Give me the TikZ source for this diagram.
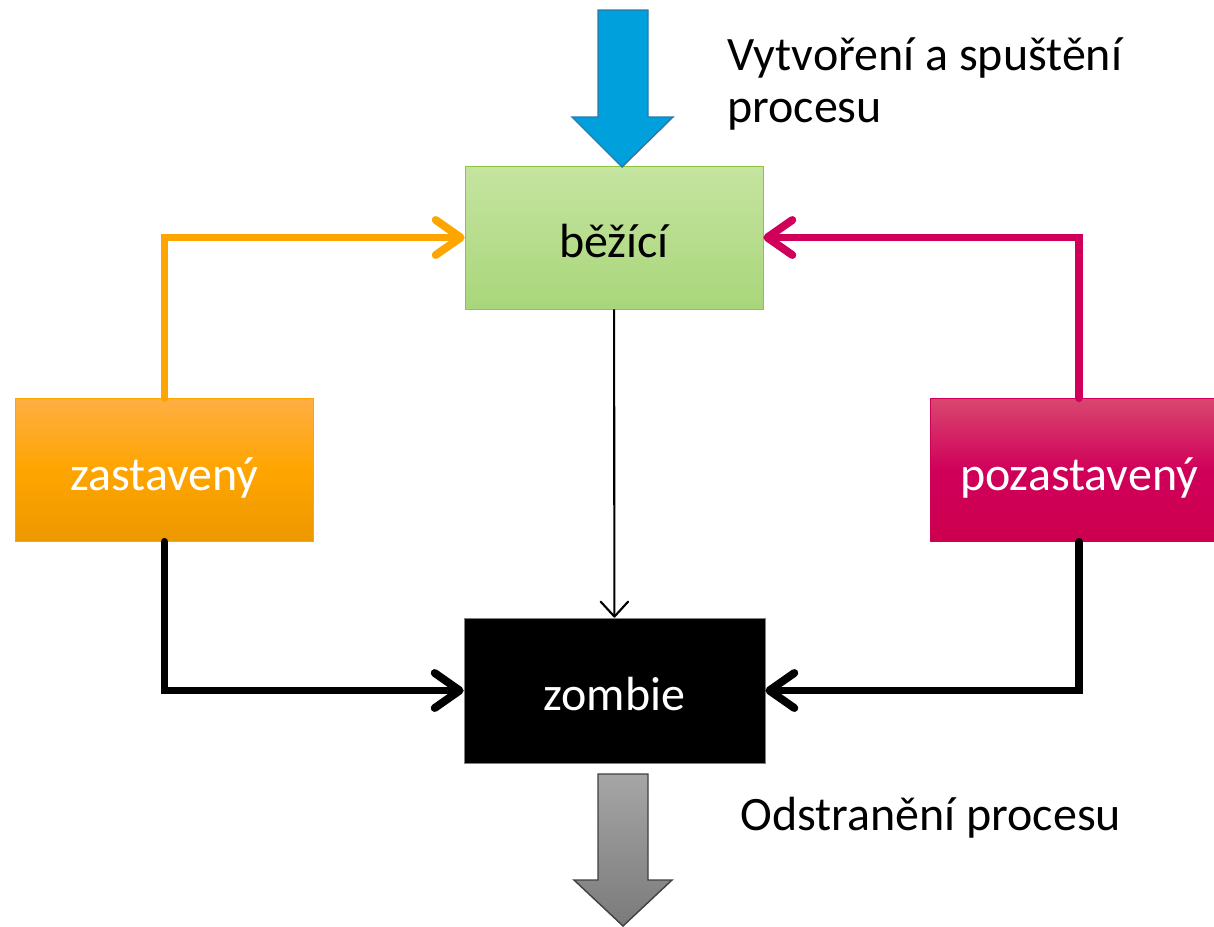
\documentclass[tikz,border=0pt]{standalone}
\usepackage{fontspec}
\setmainfont{Carlito}
\usepackage{tikz}
\usetikzlibrary{positioning,arrows.meta}
\definecolor{zelena}{RGB}{169,214,122}
\definecolor{zelenasvetla}{RGB}{197,228,160}
\definecolor{zelenaokraj}{RGB}{140,198,63}
\definecolor{oranzova}{RGB}{255,165,0}
\definecolor{oranzovasvetla}{RGB}{255,174,68}
\definecolor{oranzovatmava}{RGB}{236,152,0}
\definecolor{purpur}{RGB}{208,0,90}
\definecolor{purpursvetly}{RGB}{216,72,111}
\definecolor{purpurtmavy}{RGB}{204,0,78}
\definecolor{modra}{RGB}{0,160,220}
\definecolor{modraokraj}{RGB}{42,121,168}
\tikzset{stav/.style={rectangle, minimum width=5.96cm, minimum height=2.86cm,
                      text height=29pt, text depth=6pt,
                      font=\fontsize{27.3}{30}\selectfont},
         popis/.style={inner sep=0pt, font=\fontsize{27.3}{30}\selectfont},
         hrana/.style={line width=4.5pt, line cap=round,
                       -{Straight Barb[length=5mm, width=7mm, round]}}}

\begin{document}
\begin{tikzpicture}
    \useasboundingbox (0,0) rectangle (24.28,-18.52);
    % stavy procesu
    \node[stav, draw=zelenaokraj, top color=zelenasvetla, bottom color=zelena] (bezici) at (12.28,-4.75) {běžící};
    \node[stav, draw=oranzova, top color=oranzovasvetla, bottom color=oranzovatmava,
          middle color=oranzova, text=white] (zast) at (3.29,-9.4) {zastavený};
    \node[stav, draw=purpur, top color=purpursvetly, bottom color=purpurtmavy,
          middle color=purpur, text=white] (pozast) at (21.58,-9.4) {pozastavený};
    \node[stav, draw=gray, fill=black, text=white, minimum width=6.02cm, minimum height=2.9cm] (zombie) at (12.29,-13.81) {zombie};

    % prechody
    \draw[hrana, oranzova] (zast.north) |- (bezici.west);
    \draw[hrana, purpur] (pozast.north) |- (bezici.east);
    \draw[hrana, black] (zast.south) |- (zombie.west);
    \draw[hrana, black] (pozast.south) |- (zombie.east);
    \draw[line width=1.2pt, -{Straight Barb[length=3mm, width=5.5mm, round]}] (bezici) -- (zombie);

    % vstup a vystup
    \draw[draw=modraokraj, fill=modra, line width=0.8pt]
        (11.96,-0.2) -- (12.96,-0.2) -- (12.96,-2.34) -- (13.46,-2.34) -- (12.44,-3.34)
        -- (11.44,-2.34) -- (11.96,-2.34) -- cycle;
    \draw[draw=black!75, top color=black!35, bottom color=black!52, line width=0.8pt]
        (11.96,-15.48) -- (12.96,-15.48) -- (12.96,-17.6) -- (13.44,-17.6) -- (12.46,-18.52)
        -- (11.48,-17.6) -- (11.96,-17.6) -- cycle;
    \node[popis, anchor=north west, align=left] (vytvoreni) at (14.54,-0.74) {Vytvoření a spuštění\\procesu};
    \node[popis, anchor=base west] (odstraneni) at (14.8,-16.6) {Odstranění procesu};
\end{tikzpicture}
\end{document}
